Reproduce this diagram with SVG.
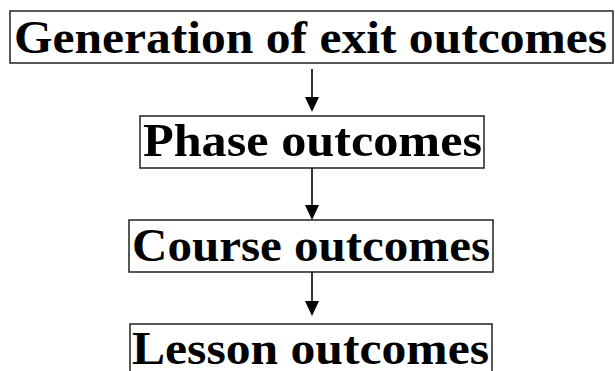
<svg xmlns="http://www.w3.org/2000/svg" width="615" height="371" viewBox="0 0 615 371">
<style>
.box{fill:#fff;stroke:#222;stroke-width:1.5}
.lbl{font-family:"Liberation Serif","Times New Roman",serif;font-weight:bold;font-size:46px;fill:#000}
.conn line{stroke:#000;stroke-width:1.6}
.conn polygon{fill:#000}
</style>
<rect width="615" height="371" fill="#fff"/>
<g id="n1"><rect class="box" x="10" y="11" width="603" height="52"/><text class="lbl" x="14" y="53" textLength="593" lengthAdjust="spacingAndGlyphs">Generation of exit outcomes</text></g>
<g id="n2"><rect class="box" x="140" y="116" width="344" height="52"/><text class="lbl" x="143" y="156" textLength="339" lengthAdjust="spacingAndGlyphs">Phase outcomes</text></g>
<g id="n3"><rect class="box" x="129" y="220" width="364" height="52"/><text class="lbl" x="132" y="261" textLength="358" lengthAdjust="spacingAndGlyphs">Course outcomes</text></g>
<g id="n4"><rect class="box" x="130" y="324" width="362" height="60"/><text class="lbl" x="132" y="364" textLength="357" lengthAdjust="spacingAndGlyphs">Lesson outcomes</text></g>
<g id="connectors" class="conn">
<line x1="312" y1="69" x2="312" y2="98"/><polygon points="305,97 319,97 312,112"/>
<line x1="312" y1="168" x2="312" y2="206"/><polygon points="305,205 319,205 312,220"/>
<line x1="312" y1="272" x2="312" y2="302"/><polygon points="305,301 319,301 312,316"/>
</g>
</svg>
